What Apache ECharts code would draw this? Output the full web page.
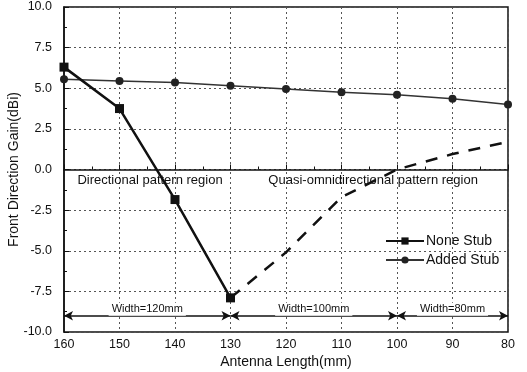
<!DOCTYPE html>
<html>
<head>
<meta charset="utf-8">
<script src="https://cdn.jsdelivr.net/npm/echarts@6/dist/echarts.min.js"></script>
<style>
  html, body { margin: 0; padding: 0; background: #fff; }
  #chart { width: 527px; height: 372px; }
</style>
</head>
<body>
<div id="chart"></div>
<script>
// Antenna length (mm) on the x axis, gain (dBi) on the y axis
const lengths = [160, 150, 140, 130, 120, 110, 100, 90, 80];
const noneStubGain = [6.3, 3.75, -1.85, -7.9, null, null, null, null, null];
const noneStubTrend = [null, null, null, -7.9, -5.1, -1.7, 0.0, 0.95, 1.7];
const addedStubGain = [5.55, 5.45, 5.35, 5.15, 4.95, 4.75, 4.6, 4.35, 4.0];

// Width spans drawn as double arrows near the bottom
const widthLevel = -9.0;
const widthSpans = [
  { from: 160, to: 130, text: 'Width=120mm' },
  { from: 130, to: 100, text: 'Width=100mm' },
  { from: 100, to: 80, text: 'Width=80mm' }
];

// Region annotations
const regionNotes = [
  { x: 144.5, y: -0.7, text: 'Directional pattern region' },
  { x: 104.3, y: -0.7, text: 'Quasi-omnidirectional pattern region' }
];

const yTicksFmt = v => v.toFixed(1);
const pairs = arr => lengths.map((x, i) => [x, arr[i]]);

const font = 'Liberation Sans, Arial, sans-serif';
const chart = echarts.init(document.getElementById('chart'));

chart.setOption({
  animation: false,
  backgroundColor: '#fff',
  grid: {
    left: 64, right: 19, top: 7, bottom: 40,
    outerBoundsMode: 'none',
    containLabel: false,
    show: true, borderColor: '#111', borderWidth: 1.5
  },
  legend: {
    orient: 'vertical',
    left: 380, top: 229,
    itemWidth: 38, itemHeight: 9, itemGap: 5,
    textStyle: { fontFamily: font, fontSize: 14, color: '#111', padding: [0, 0, 0, -3] },
    data: ['None Stub', 'Added Stub']
  },
  xAxis: {
    type: 'value',
    inverse: true,
    min: 80, max: 160, interval: 10,
    name: 'Antenna Length(mm)',
    nameLocation: 'middle',
    nameGap: 23,
    nameMoveOverlap: false,
    nameTextStyle: { fontFamily: font, fontSize: 14, color: '#111', verticalAlign: 'top' },
    axisLine: { lineStyle: { color: '#111', width: 1.5 } },
    axisTick: { inside: true, length: 5, lineStyle: { color: '#111' } },
    minorTick: { show: true, splitNumber: 2, length: 3, lineStyle: { color: '#111' } },
    axisLabel: { fontFamily: font, fontSize: 12.5, color: '#111', margin: 6 },
    splitLine: { show: true, lineStyle: { color: '#555', type: [2, 3], width: 1 } }
  },
  yAxis: {
    type: 'value',
    min: -10, max: 10, interval: 2.5,
    name: 'Front Direction Gain(dBi)',
    nameLocation: 'middle',
    nameGap: 43,
    nameMoveOverlap: false,
    nameTextStyle: { fontFamily: font, fontSize: 14, color: '#111' },
    axisLine: { show: true, lineStyle: { color: '#111', width: 1.5 } },
    axisTick: { show: true, inside: true, length: 5, lineStyle: { color: '#111' } },
    minorTick: { show: true, splitNumber: 2, length: 3, lineStyle: { color: '#111' } },
    axisLabel: { fontFamily: font, fontSize: 12.5, color: '#111', margin: 12, formatter: yTicksFmt },
    splitLine: { show: true, lineStyle: { color: '#555', type: [2, 3], width: 1 } }
  },
  series: [
    {
      name: 'None Stub',
      type: 'line',
      data: pairs(noneStubGain),
      symbol: 'rect',
      symbolSize: 9,
      itemStyle: { color: '#111' },
      lineStyle: { color: '#111', width: 2.5 },
      z: 4
    },
    {
      name: 'None Stub trend',
      type: 'line',
      data: pairs(noneStubTrend),
      showSymbol: false,
      symbol: 'none',
      lineStyle: { color: '#111', width: 2.5, type: [12, 10] },
      z: 3
    },
    {
      name: 'Added Stub',
      type: 'line',
      data: pairs(addedStubGain),
      symbol: 'circle',
      symbolSize: 8,
      itemStyle: { color: '#222' },
      lineStyle: { color: '#333', width: 1.5 },
      z: 3
    },
    {
      name: 'annotations',
      type: 'line',
      data: [],
      silent: true,
      markLine: {
        silent: true,
        symbol: ['arrow', 'arrow'],
        symbolSize: [7, 9],
        lineStyle: { color: '#111', width: 1.5, type: 'solid' },
        label: {
          show: true,
          position: 'middle',
          fontFamily: font,
          fontSize: 11,
          color: '#111',
          backgroundColor: '#fff',
          padding: [1, 3],
          distance: 0,
          formatter: p => p.data.text
        },
        data: widthSpans.map(s => [
          { coord: [s.from, widthLevel], text: s.text },
          { coord: [s.to, widthLevel] }
        ])
      },
      markPoint: {
        silent: true,
        symbol: 'circle',
        symbolSize: 0,
        label: {
          show: true,
          position: 'inside',
          fontFamily: font,
          fontSize: 13,
          color: '#111',
          formatter: p => p.data.text
        },
        data: regionNotes.map(n => ({ coord: [n.x, n.y], text: n.text }))
      }
    }
  ]
});
</script>
</body>
</html>
